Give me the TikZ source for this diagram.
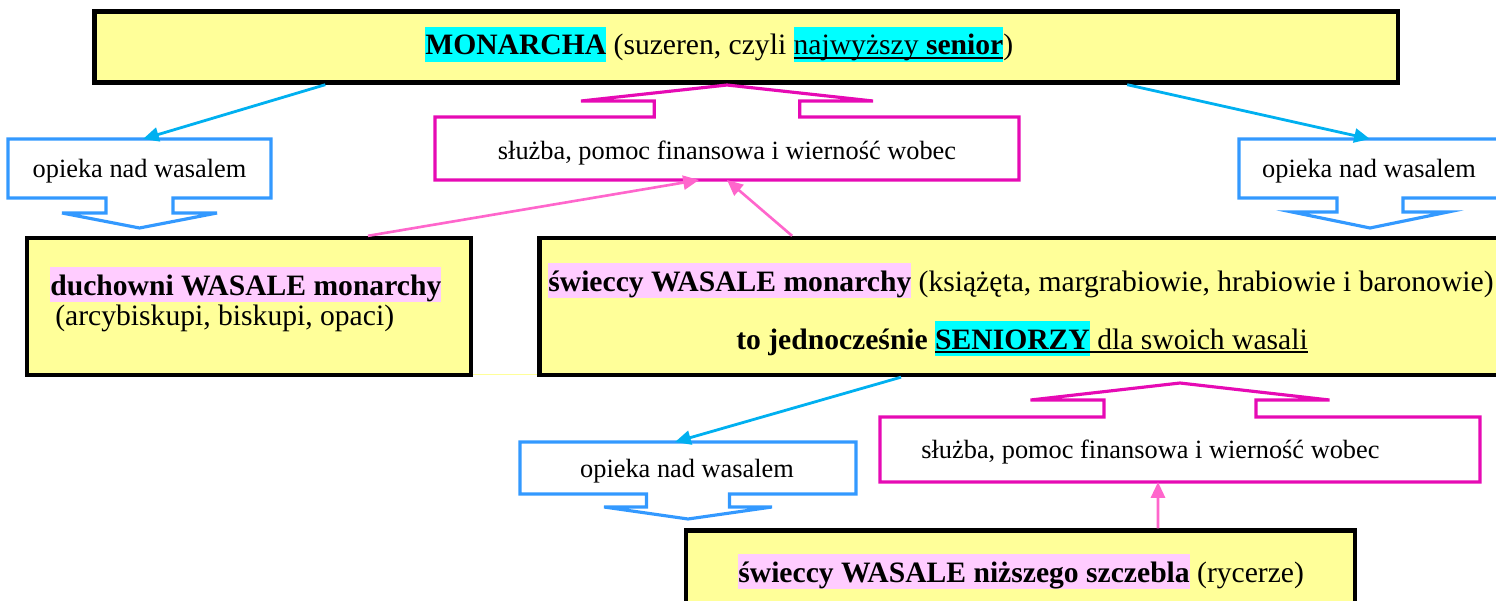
\documentclass[tikz,border=0pt]{standalone}
\usepackage{fontspec}
\setmainfont{Liberation Serif}
\usetikzlibrary{arrows.meta}

\definecolor{boxyellow}{HTML}{FFFF99}
\definecolor{hlcyan}{HTML}{00FFFF}
\definecolor{hlpink}{HTML}{FFCCFF}
\definecolor{callblue}{HTML}{3399FF}
\definecolor{arrblue}{HTML}{00B0F0}
\definecolor{callmag}{RGB}{230,10,180}
\definecolor{arrpink}{HTML}{FF66CC}

\newsavebox{\ulbox}
\newcommand{\undl}[1]{\sbox{\ulbox}{#1}\rlap{\rule[-2.2pt]{\wd\ulbox}{0.9pt}}\usebox{\ulbox}}
\newcommand{\hilite}[2]{{\setlength{\fboxsep}{0pt}\colorbox{#1}{\rule[-0.24em]{0pt}{1.17em}#2}}}

\begin{document}
\begin{tikzpicture}[x=0.02cm, y=-0.02cm,
  bigbox/.style={draw, line width=2.5pt, fill=boxyellow},
  helper/.style={inner sep=0pt, outer sep=0pt},
  bigtext/.style={inner sep=0pt, font=\fontsize{16.85}{20}\selectfont},
  smalltext/.style={inner sep=0pt, font=\fontsize{15}{18}\selectfont},
  bluecall/.style={draw=callblue, line width=1.8pt},
  pinkcall/.style={draw=callmag, line width=1.8pt},
  bluearrow/.style={color=arrblue, line width=1.6pt, -{Triangle[length=9pt,width=8pt]}},
  pinkarrow/.style={color=arrpink, line width=1.5pt, -{Triangle[length=9pt,width=8pt]}}]
  \useasboundingbox (0,0) rectangle (1496,601);

  % main boxes
  \node [bigbox] (monarch) [minimum width=26.07cm, minimum height=1.424cm] at (746.25,46.9) {};
  \node [bigbox] (duch) [minimum width=8.88cm, minimum height=2.74cm] at (249,306.5) {};
  \node [bigbox] (swiec) [minimum width=19.41cm, minimum height=2.74cm] at (1024.75,306.5) {};
  \node [bigbox] (rycerz) [minimum width=13.38cm, minimum height=2.59cm] at (1020.5,595.25) {};
  \draw [boxyellow, line width=0.6pt] ([yshift=0.06cm]duch.south east) -- ([yshift=0.06cm]swiec.south west);

  % callouts
  \node [helper] (opL) [minimum width=5.26cm, minimum height=1.18cm] at (139.5,168.5) {};
  \node [helper] (opR) [minimum width=5.24cm, minimum height=1.18cm] at (1370,168.5) {};
  \node [helper] (opB) [minimum width=6.72cm, minimum height=1.04cm] at (688,468) {};
  \node [helper] (slT) [minimum width=11.68cm, minimum height=1.26cm] at (727,148.5) {};
  \node [helper] (slB) [minimum width=12cm, minimum height=1.3cm] at (1180,449.5) {};

  \draw [bluecall] (opL.south) ++(33.5,0) -- ++(0,15) -- ++(44,0) -- ++(-77.5,15) -- ++(-77.5,-15) -- ++(44,0) -- ++(0,-15)
    -- (opL.south west) -- (opL.north west) -- (opL.north east) -- (opL.south east) -- cycle;
  \draw [bluecall] (opR.south) ++(33,0) -- ++(0,14) -- ++(45,0) -- ++(-78,16) -- ++(-78,-16) -- ++(45,0) -- ++(0,-14)
    -- (opR.south west) -- (opR.north west) -- (opR.north east) -- (opR.south east) -- cycle;
  \draw [bluecall] (opB.south) ++(41.5,0) -- ++(0,13) -- ++(42.5,0) -- ++(-84,12) -- ++(-84,-12) -- ++(42.5,0) -- ++(0,-13)
    -- (opB.south west) -- (opB.north west) -- (opB.north east) -- (opB.south east) -- cycle;
  \draw [pinkcall] (slT.north) ++(72.75,0) -- ++(0,-16) -- ++(73.25,0) -- ++(-146,-16) -- ++(-146,16) -- ++(73.25,0) -- ++(0,16)
    -- (slT.north west) -- (slT.south west) -- (slT.south east) -- (slT.north east) -- cycle;
  \draw [pinkcall] (slB.north) ++(76,0) -- ++(0,-17) -- ++(73.5,0) -- ++(-149.5,-17) -- ++(-149.5,17) -- ++(73.5,0) -- ++(0,17)
    -- (slB.north west) -- (slB.south west) -- (slB.south east) -- (slB.north east) -- cycle;

  % arrows
  \path [bluearrow]
  ([xshift=-8.42cm]monarch.south) edge [] ([xshift=0.07cm]opL.north)
  ([xshift=7.62cm]monarch.south) edge [] (opR.north)
  ([xshift=-2.475cm]swiec.south) edge [] ([xshift=-0.26cm]opB.north);
  \path [pinkarrow]
  ([xshift=2.38cm]duch.north) edge [] ([xshift=-0.56cm]slT.south)
  ([xshift=-4.655cm]swiec.north) edge [] (slT.south)
  ([xshift=2.75cm]rycerz.north) edge [] ([xshift=-0.44cm]slB.south);

  % texts
  \node [bigtext, anchor=base west] (monarchT) at (425,55) {\hilite{hlcyan}{\textbf{MONARCHA}} (suzeren, czyli \hilite{hlcyan}{\undl{najwyższy \textbf{senior}}})};
  \node [bigtext, anchor=base west] (duchT1) at (50,295) {\hilite{hlpink}{\textbf{duchowni WASALE monarchy}}};
  \node [bigtext, anchor=base west] (duchT2) at (55,325) {(arcybiskupi, biskupi, opaci)};
  \node [bigtext, anchor=base west] (swiecT1) at (548,291) {\hilite{hlpink}{\textbf{świeccy WASALE monarchy}} (książęta, margrabiowie, hrabiowie i baronowie)};
  \node [bigtext, anchor=base] (swiecT2) at (1022,349) {\textbf{to jednocześnie} \hilite{hlcyan}{\undl{\textbf{SENIORZY}}}\undl{\ dla swoich wasali}};
  \node [bigtext, anchor=base west] (rycerzT) at (738,582) {\hilite{hlpink}{\textbf{świeccy WASALE niższego szczebla}} (rycerze)};
  \node [smalltext, anchor=base] (opLT) at (139.5,177) {opieka nad wasalem};
  \node [smalltext, anchor=base] (opRT) at (1369,177) {opieka nad wasalem};
  \node [smalltext, anchor=base] (opBT) at (687,477) {opieka nad wasalem};
  \node [smalltext, anchor=base] (slTT) at (727,160) {służba, pomoc finansowa i wierność wobec};
  \node [smalltext, anchor=base west] (slBT) at (921,458) {służba, pomoc finansowa i wierność wobec};
\end{tikzpicture}
\end{document}
